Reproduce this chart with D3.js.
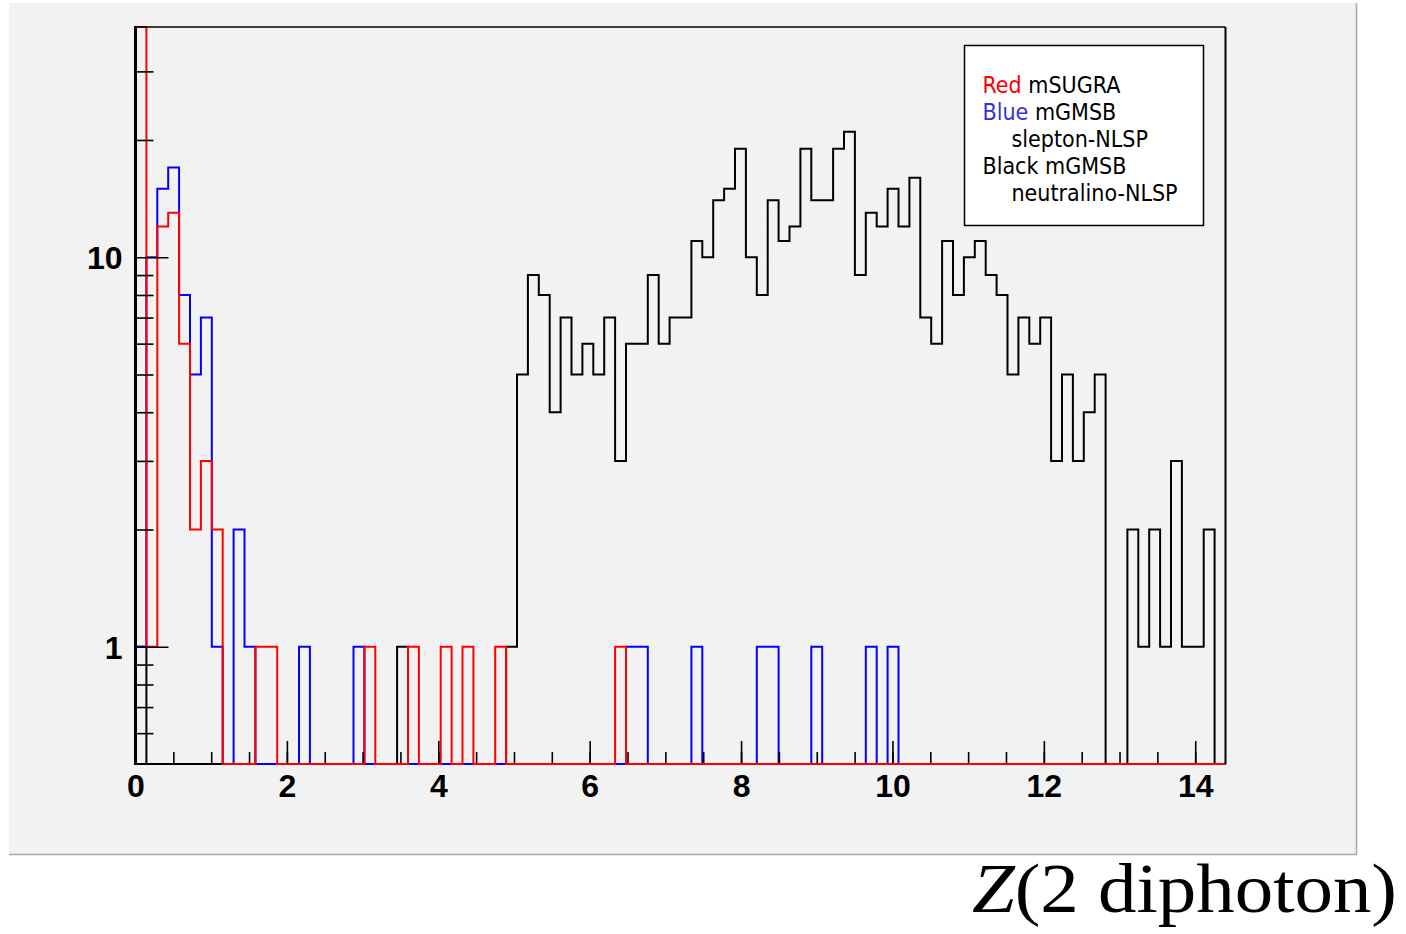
<!DOCTYPE html>
<html>
<head>
<meta charset="utf-8">
<script src="https://cdn.jsdelivr.net/npm/d3@7"></script>
<style>
  html, body { margin: 0; padding: 0; background: #ffffff; }
  svg { display: block; }
</style>
</head>
<body>
<svg id="chart" width="1406" height="934"></svg>
<script>
// histogram: 100 bins from 0 to 14.4 (bin width 0.144)
var nBins = 100,
    xMin = 0,
    xMax = 14.4;

// black: mGMSB neutralino-NLSP (counts per bin)
var blackCounts = [
  1, 0, 0, 0, 0, 0, 0, 0, 0, 0,
  0, 0, 0, 0, 0, 0, 0, 0, 0, 0,
  0, 0, 0, 0, 1, 0, 0, 0, 0, 0,
  0, 0, 0, 0, 1, 5, 9, 8, 4, 7,
  5, 6, 5, 7, 3, 6, 6, 9, 6, 7,
  7, 11, 10, 14, 15, 19, 10, 8, 14, 11,
  12, 19, 14, 14, 19, 21, 9, 13, 12, 15,
  12, 16, 7, 6, 11, 8, 10, 11, 9, 8,
  5, 7, 6, 7, 3, 5, 3, 4, 5, 0,
  0, 2, 1, 2, 1, 3, 1, 1, 2, 0
];

// blue: mGMSB slepton-NLSP
var blueCounts = [
  1, 10, 15, 17, 8, 5, 7, 1, 0, 2,
  1, 0, 0, 0, 0, 1, 0, 0, 0, 0,
  1, 0, 0, 0, 0, 0, 0, 0, 0, 0,
  0, 0, 0, 0, 0, 0, 0, 0, 0, 0,
  0, 0, 0, 0, 0, 1, 1, 0, 0, 0,
  0, 1, 0, 0, 0, 0, 0, 1, 1, 0,
  0, 0, 1, 0, 0, 0, 0, 1, 0, 1,
  0, 0, 0, 0, 0, 0, 0, 0, 0, 0,
  0, 0, 0, 0, 0, 0, 0, 0, 0, 0,
  0, 0, 0, 0, 0, 0, 0, 0, 0, 0
];

// red: mSUGRA (first bin runs off the top of the frame)
var redCounts = [
  60, 1, 12, 13, 6, 2, 3, 2, 0, 0,
  0, 1, 1, 0, 0, 0, 0, 0, 0, 0,
  0, 1, 0, 0, 0, 1, 0, 0, 1, 0,
  1, 0, 0, 1, 0, 0, 0, 0, 0, 0,
  0, 0, 0, 0, 1, 0, 0, 0, 0, 0,
  0, 0, 0, 0, 0, 0, 0, 0, 0, 0,
  0, 0, 0, 0, 0, 0, 0, 0, 0, 0,
  0, 0, 0, 0, 0, 0, 0, 0, 0, 0,
  0, 0, 0, 0, 0, 0, 0, 0, 0, 0,
  0, 0, 0, 0, 0, 0, 0, 0, 0, 0
];

// axis ticks
var xMajorTicks = [0, 2, 4, 6, 8, 10, 12, 14];
var xMinorTicks = d3.range(0, 14.41, 0.5);
var yMajorTicks = [1, 10];
var yMinorTicks = [0.6, 0.7, 0.8, 0.9, 2, 3, 4, 5, 6, 7, 8, 9, 20, 30];
var yMin = 0.5,
    yMax = 39;

// legend lines: [coloured word, colour, rest of text, indented?]
var legendLines = [
  ["Red", "#ff0000", " mSUGRA", false],
  ["Blue", "#3434d8", " mGMSB", false],
  ["", "#000", "slepton-NLSP", true],
  ["Black", "#000", " mGMSB", false],
  ["", "#000", "neutralino-NLSP", true]
];

var series = [
  { name: "black", counts: blackCounts, color: "#000000" },
  { name: "blue", counts: blueCounts, color: "#0000ff" },
  { name: "red", counts: redCounts, color: "#ff0000" }
];

// Init svg
var svg = d3.select("#chart");

// frame position in pixels
var frame = { left: 135.5, right: 1225.5, top: 27, bottom: 764 };

var x = d3.scaleLinear().domain([xMin, xMax]).range([frame.left, frame.right]);
var y = d3.scaleLog().domain([yMin, yMax]).range([frame.bottom, frame.top]);

// canvas (grey pad like ROOT)
svg.append("rect")
  .attr("x", 9).attr("y", 3)
  .attr("width", 1347).attr("height", 851)
  .attr("fill", "#f2f2f2");
svg.append("path")
  .attr("d", "M9,854.5 H1356.5 V3")
  .attr("fill", "none")
  .attr("stroke", "#a8a8a8")
  .attr("stroke-width", 1.5);

// bottom axis line goes under the histograms
svg.append("line")
  .attr("x1", frame.left).attr("x2", frame.right)
  .attr("y1", frame.bottom).attr("y2", frame.bottom)
  .attr("stroke", "#000").attr("stroke-width", 2);

// bin value -> pixel y, zero at the frame bottom, overflow pinned to the top
function yOf(v) {
  if (v <= 0) return frame.bottom;
  return Math.max(frame.top, Math.min(frame.bottom, y(v)));
}

// step outline of a histogram
var binWidth = (xMax - xMin) / nBins;
var stepLine = d3.line()
  .x(function (d) { return d[0]; })
  .y(function (d) { return d[1]; })
  .curve(d3.curveStepAfter);

function histPoints(counts) {
  var pts = [[x(xMin), frame.bottom]];
  counts.forEach(function (v, i) {
    pts.push([x(xMin + i * binWidth), yOf(v)]);
  });
  pts.push([x(xMax), frame.bottom]);
  return pts;
}

svg.append("g")
  .attr("class", "hists")
  .selectAll("path")
  .data(series)
  .enter()
  .append("path")
  .attr("d", function (d) { return stepLine(histPoints(d.counts)); })
  .attr("fill", "none")
  .attr("stroke", function (d) { return d.color; })
  .attr("stroke-width", 2);

// x axis: minor then major ticks, pointing inward
var xMinorAxis = d3.axisBottom(x).tickValues(xMinorTicks).tickSize(-11).tickFormat("");
var xMajorAxis = d3.axisBottom(x).tickValues(xMajorTicks).tickSize(-22).tickPadding(10)
  .tickFormat(d3.format("d"));

svg.append("g").attr("transform", "translate(0," + (frame.bottom - 1) + ")").call(xMinorAxis);
svg.append("g").attr("class", "xlabels").attr("transform", "translate(0," + (frame.bottom - 1) + ")").call(xMajorAxis);

// y axis: log, minor and major ticks
var yMinorAxis = d3.axisLeft(y).tickValues(yMinorTicks).tickSize(-18).tickFormat("");
var yMajorAxis = d3.axisLeft(y).tickValues(yMajorTicks).tickSize(-33).tickPadding(13)
  .tickFormat(d3.format("d"));

svg.append("g").attr("transform", "translate(" + frame.left + ",0)").call(yMinorAxis);
svg.append("g").attr("class", "ylabels").attr("transform", "translate(" + frame.left + ",0)").call(yMajorAxis);

svg.selectAll(".domain").remove();
svg.selectAll(".tick line").attr("stroke", "#000").attr("stroke-width", 1.6);
svg.selectAll(".xlabels text").attr("transform", "translate(0,1)");
svg.selectAll(".xlabels text, .ylabels text")
  .attr("fill", "#000")
  .style("font-family", "'Liberation Sans', Arial, sans-serif")
  .style("font-weight", "bold")
  .style("font-size", "32px");
svg.selectAll(".ylabels text").attr("dy", "0.36em");

// frame lines (y axis drawn over the histograms)
svg.append("line")
  .attr("x1", frame.left).attr("x2", frame.right)
  .attr("y1", frame.top).attr("y2", frame.top)
  .attr("stroke", "#000").attr("stroke-width", 1.5);
svg.append("line")
  .attr("x1", frame.right).attr("x2", frame.right)
  .attr("y1", frame.top).attr("y2", frame.bottom)
  .attr("stroke", "#000").attr("stroke-width", 2);
svg.append("line")
  .attr("x1", frame.left).attr("x2", frame.left)
  .attr("y1", frame.top - 1).attr("y2", frame.bottom + 1)
  .attr("stroke", "#000").attr("stroke-width", 3);

// legend
var legend = svg.append("g").attr("class", "legend");
legend.append("rect")
  .attr("x", 964.5).attr("y", 45.5)
  .attr("width", 239).attr("height", 180)
  .attr("fill", "#ffffff")
  .attr("stroke", "#000")
  .attr("stroke-width", 1.5);

var legendText = legend.selectAll("text")
  .data(legendLines)
  .enter()
  .append("text")
  .attr("x", function (d) { return d[3] ? 1011.5 : 982.5; })
  .attr("y", function (d, i) { return 93 + i * 27.1; })
  .style("font-family", "'DejaVu Sans Condensed', 'DejaVu Sans', sans-serif")
  .style("font-size", "23px")
  .style("white-space", "pre");

legendText.append("tspan")
  .attr("fill", function (d) { return d[1]; })
  .text(function (d) { return d[0]; });
legendText.append("tspan")
  .attr("fill", "#000")
  .text(function (d) { return d[2]; });

// x-axis title, LaTeX style
var title = svg.append("text")
  .attr("x", 972)
  .attr("y", 912)
  .attr("textLength", 425)
  .attr("lengthAdjust", "spacingAndGlyphs")
  .style("font-family", "'Liberation Serif', 'DejaVu Serif', serif")
  .style("font-size", "70px")
  .attr("fill", "#000");
title.append("tspan").style("font-style", "italic").text("Z");
title.append("tspan").text("(2 diphoton)");
</script>
</body>
</html>
